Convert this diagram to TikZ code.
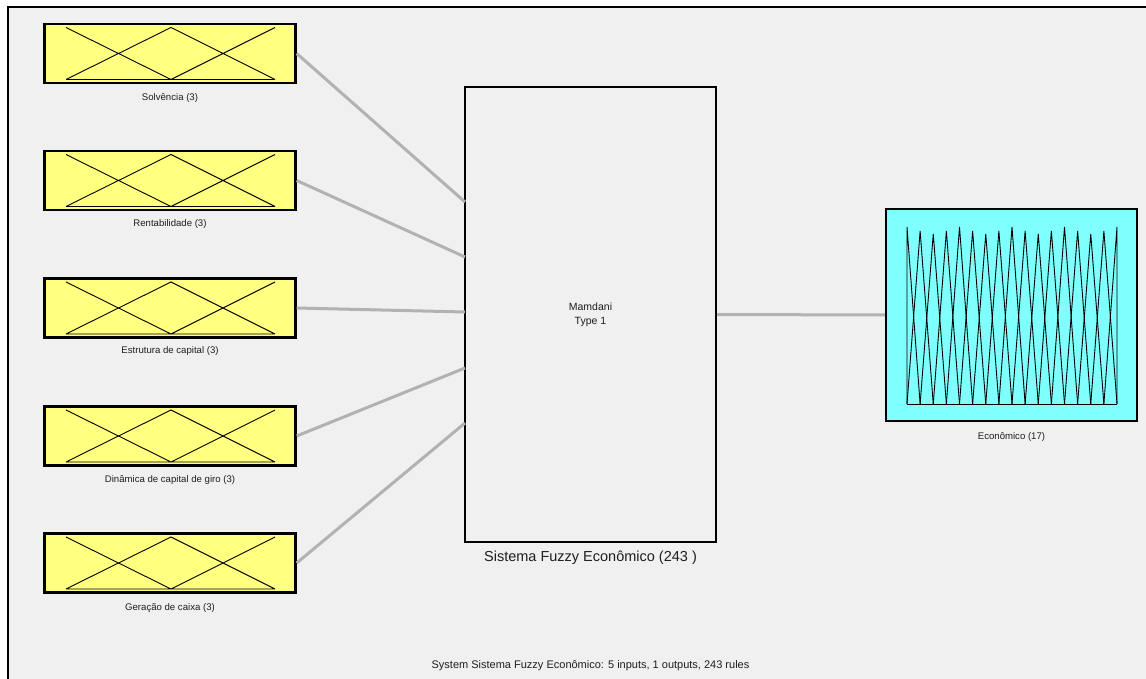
\documentclass[tikz,border=0pt]{standalone}
\usepackage{fontspec}
\setmainfont{Liberation Sans}
\definecolor{panel}{HTML}{F0F0F0}
\definecolor{inyellow}{HTML}{FFFF80}
\definecolor{outcyan}{HTML}{80FFFF}
\definecolor{wire}{HTML}{B2B2B2}
\definecolor{ink}{HTML}{1E1E1E}

\tikzset{
  varbox/.style={draw=black, line width=2.4pt, minimum width=251pt, inner sep=0pt},
  inbox/.style={varbox, fill=inyellow, minimum height=59pt},
  outbox/.style={varbox, fill=outcyan, minimum height=212pt},
  sysbox/.style={draw=black, line width=2.4pt, fill=panel, minimum width=251pt,
    minimum height=455pt, inner sep=0pt, font=\fontsize{10.5}{14}\selectfont,
    text=ink, align=center},
  varlabel/.style={font=\fontsize{9.6}{11}\selectfont, text=ink},
  syslabel/.style={font=\fontsize{14.5}{17}\selectfont, text=ink},
  infolabel/.style={font=\fontsize{11}{13}\selectfont, text=ink},
  wirestyle/.style={draw=wire, line width=3pt},
  mfline/.style={draw=black, line width=0.9pt},
  % three triangular membership functions over the unit box
  threemf/.pic={
    \draw[mfline] (-104,-26) -- (1,26) -- (105,-26)
                  (-104,26) -- (1,-26) -- (105,26)
                  (-104,26) -- (105,26);
  },
  % seventeen triangular membership functions
  seventeenmf/.pic={
    \draw[mfline] (-104.5,89) -- (105.5,89);
    \foreach \i in {0,...,16}{
      \pgfmathsetmacro{\px}{-104.5+13.125*\i}
      \pgfmathsetmacro{\lx}{max(-104.5,\px-13.125)}
      \pgfmathsetmacro{\rx}{min(105.5,\px+13.125)}
      \pgfmathtruncatemacro{\ph}{mod(\i,4)}
      \pgfmathsetmacro{\py}{\ph==0 ? -88 : (\ph==2 ? -81 : -84)}
      \draw[mfline] (\lx,89) -- (\px,\py) -- (\rx,89);
    }
  }
}

\begin{document}
\begin{tikzpicture}[x=1pt,y=-1pt]
\useasboundingbox (0,0) rectangle (1146,679);
\clip (0,0) rectangle (1146,679);
\fill[white] (0,0) rectangle (1146,679);

% editor panel with its frame
\fill[panel] (8,7) rectangle (1160,690);
\draw[line width=2pt] (8,690) -- (8,7) -- (1160,7);

% input variables
\node[inbox] (solv) at (170,53.5) {};
\node[inbox] (rent) at (170,180.5) {};
\node[inbox] (estr) at (170,308) {};
\node[inbox] (dina) at (170,436) {};
\node[inbox] (gera) at (170,563) {};
\pic at (solv.center) {threemf};
\pic at (rent.center) {threemf};
\pic at (estr.center) {threemf};
\pic at (dina.center) {threemf};
\pic at (gera.center) {threemf};

\node[varlabel] (solvlbl) at (170,98) {Solvência (3)};
\node[varlabel] (rentlbl) at (170,224) {Rentabilidade (3)};
\node[varlabel] (estrlbl) at (170,351) {Estrutura de capital (3)};
\node[varlabel] (dinalbl) at (170,480) {Dinâmica de capital de giro (3)};
\node[varlabel] (geralbl) at (170,608) {Geração de caixa (3)};

% inference system
\node[sysbox] (sys) at (590.5,314.5) {Mamdani\\Type 1};
\node[syslabel] (syslbl) at (590.5,558) {Sistema Fuzzy Econômico (243 )};

% output variable
\node[outbox] (econ) at (1011.5,315) {};
\pic at (econ.center) {seventeenmf};
\node[varlabel] (econlbl) at (1011.5,437) {Econômico (17)};

% wiring
\coordinate (sysin1) at (465,202);
\coordinate (sysin2) at (465,257);
\coordinate (sysin3) at (465,312);
\coordinate (sysin4) at (465,368);
\coordinate (sysin5) at (465,423);
\draw[wirestyle] (solv.east) -- (sysin1);
\draw[wirestyle] (rent.east) -- (sysin2);
\draw[wirestyle] (estr.east) -- (sysin3);
\draw[wirestyle] (dina.east) -- (sysin4);
\draw[wirestyle] (gera.east) -- (sysin5);
\draw[wirestyle] (sys.east) -- (econ.west);

% summary line
\node[infolabel] (info) at (590.5,666) {System Sistema Fuzzy Econômico: 5 inputs, 1 outputs, 243 rules};
\end{tikzpicture}
\end{document}
